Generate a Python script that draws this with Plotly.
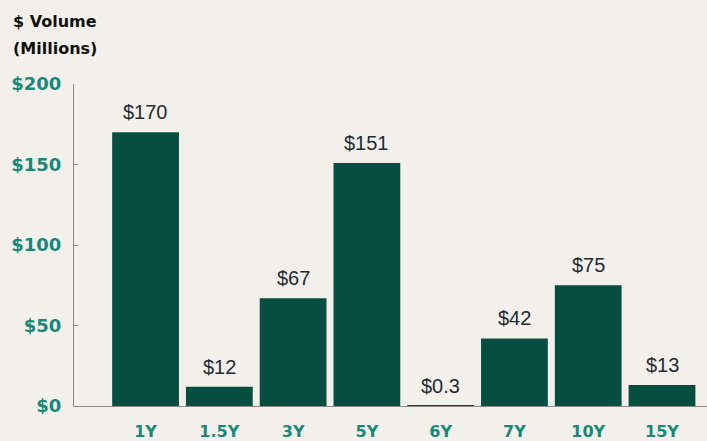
import plotly.graph_objects as go

categories = ["1Y", "1.5Y", "3Y", "5Y", "6Y", "7Y", "10Y", "15Y"]
values = [170, 12, 67, 151, 0.3, 42, 75, 13]
labels = ["$170", "$12", "$67", "$151", "$0.3", "$42", "$75", "$13"]
y_ticks = [0, 50, 100, 150, 200]
y_tick_text = ["$0", "$50", "$100", "$150", "$200"]
title_lines = ["$ Volume", "(Millions)"]

BG = "#f3f0eb"
BAR = "#064e40"
TEAL = "#17897a"
AXIS = "#8a8a8a"
BOLD_FONT = "DejaVu Sans, Arial"

fig = go.Figure(go.Bar(x=categories, y=values, marker_color=BAR, marker_line_width=0,
                       hoverinfo="skip"))

for c, v, t in zip(categories, values, labels):
    fig.add_annotation(x=c, y=v, text=t, showarrow=False, yanchor="bottom", yshift=7,
                       font=dict(family="Liberation Sans, Arial", size=20, color="#222b33"))

for i, line in enumerate(title_lines):
    fig.add_annotation(xref="paper", yref="paper", x=-0.099, y=1.193 - i * 0.082,
                       xanchor="left", yanchor="middle", text="<b>" + line + "</b>",
                       showarrow=False, font=dict(family=BOLD_FONT, size=16, color="#111111"))

fig.update_layout(
    width=707, height=441,
    margin=dict(l=74, r=0, t=84, b=35),
    paper_bgcolor=BG, plot_bgcolor=BG,
    bargap=0.095,
    showlegend=False,
    xaxis=dict(type="category", range=[-0.97, 7.61], showgrid=False, zeroline=False,
               showline=True, linecolor=AXIS, linewidth=1.2, ticks="", automargin=False,
               tickfont=dict(family=BOLD_FONT, size=16, color=TEAL, weight="bold"),
               ticklabelstandoff=11),
    yaxis=dict(range=[0, 200], tickvals=y_ticks, ticktext=y_tick_text, showgrid=False,
               zeroline=False, showline=True, linecolor=AXIS, linewidth=1.2,
               ticks="inside", ticklen=4, tickcolor=AXIS, automargin=False,
               tickfont=dict(family=BOLD_FONT, size=18, color=TEAL, weight="bold"),
               ticklabelstandoff=8),
)

fig.write_html("out.html", config={"displayModeBar": False},
               post_script="document.body.style.margin='0';")
